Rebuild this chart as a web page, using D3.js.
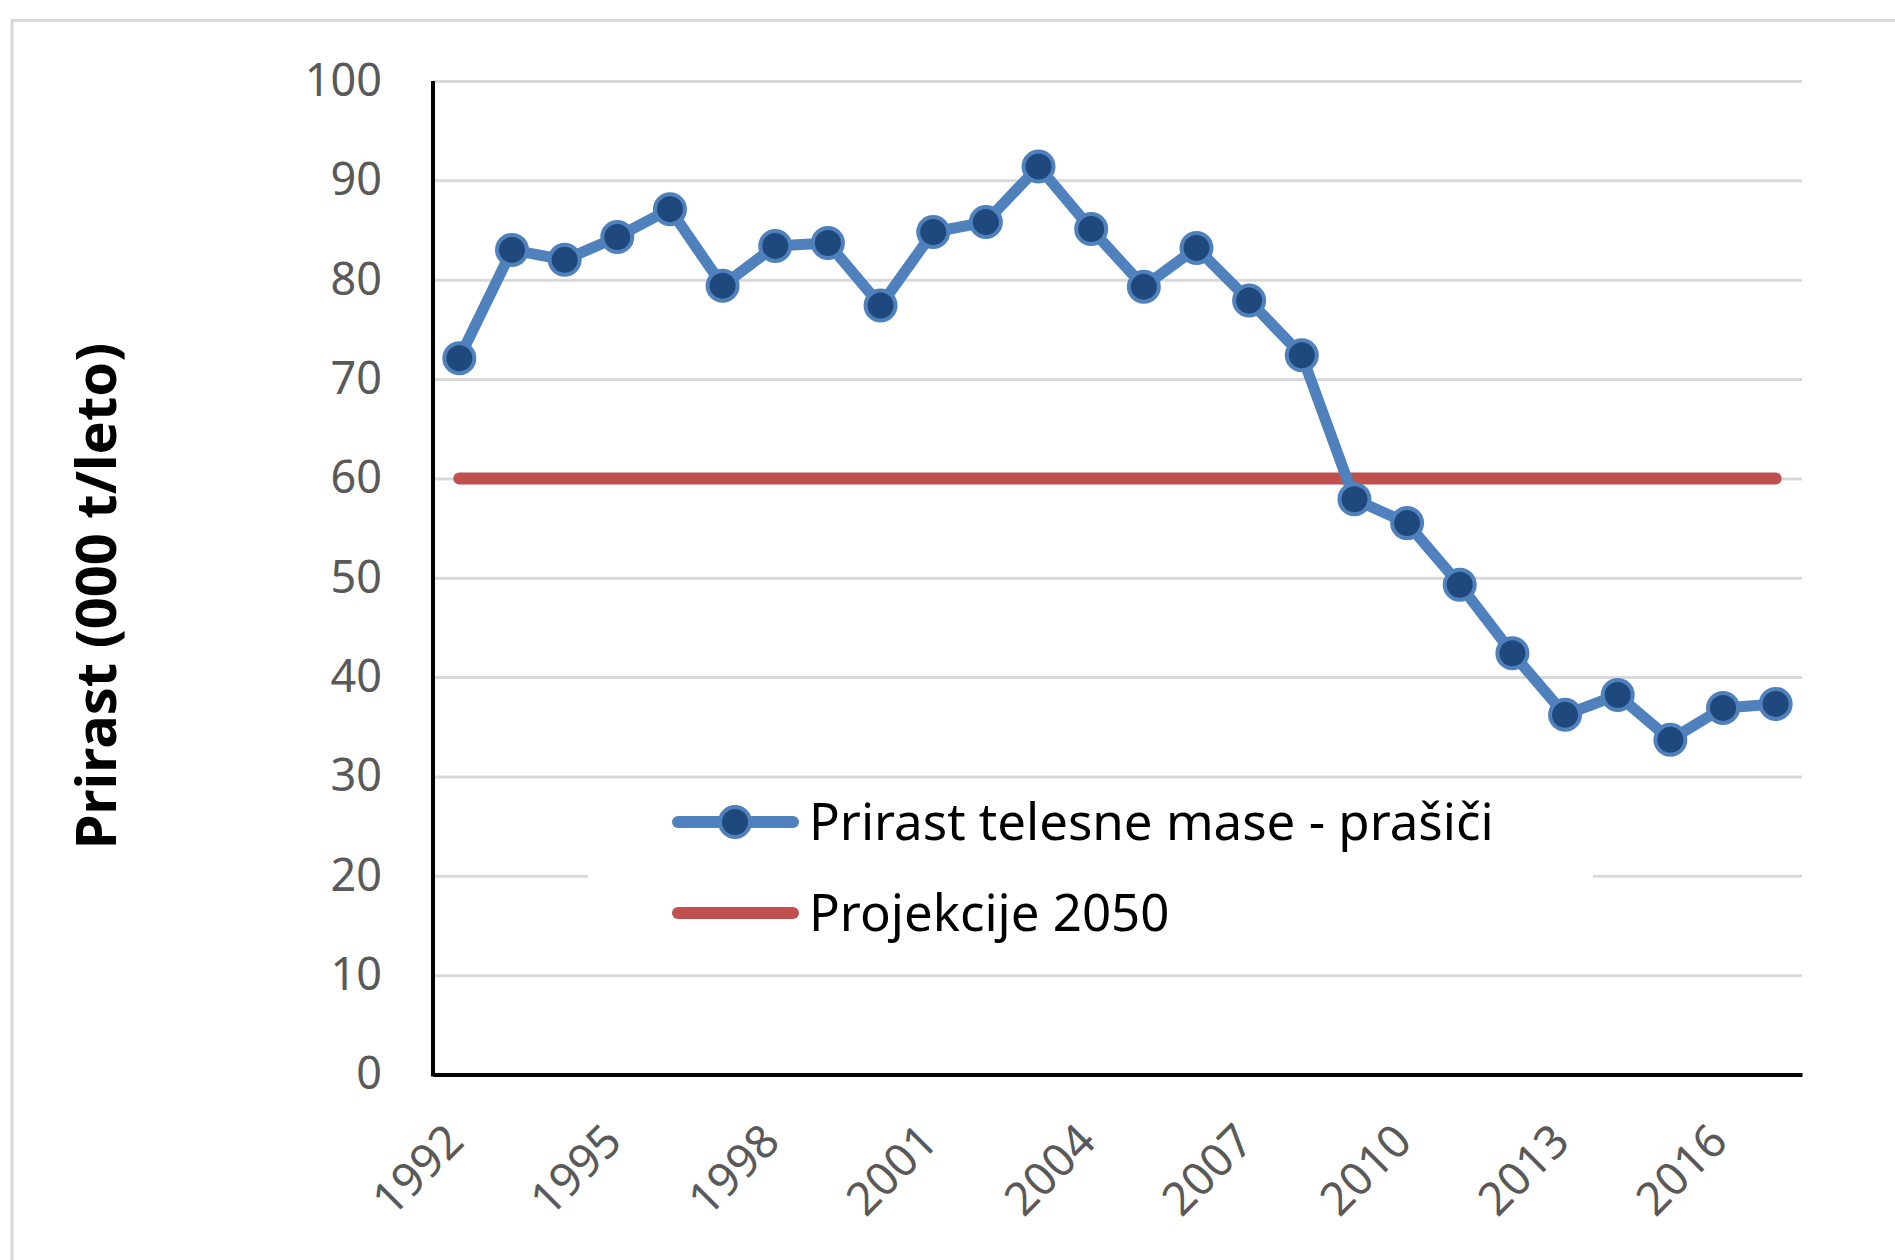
<!DOCTYPE html>
<html>
<head>
<meta charset="utf-8">
<script src="https://cdn.jsdelivr.net/npm/d3@7"></script>
<style>
  body { margin: 0; background: #fff; }
  text { font-family: "Noto Sans", "Open Sans", sans-serif; }
</style>
</head>
<body>
<div id="chart"></div>
<script>
// data
const years = d3.range(1992, 2018).map(String);
const prirast = [72.1, 83.0, 82.0, 84.3, 87.1, 79.4, 83.4, 83.7, 77.4, 84.8,
  85.8, 91.4, 85.1, 79.3, 83.2, 77.9, 72.4, 57.9, 55.5, 49.3,
  42.4, 36.2, 38.2, 33.7, 36.9, 37.3];
const projekcija = 60;
const yTicks = [0, 10, 20, 30, 40, 50, 60, 70, 80, 90, 100];
const xTickYears = ["1992", "1995", "1998", "2001", "2004", "2007", "2010", "2013", "2016"];
const seriesNames = ["Prirast telesne mase - prašiči", "Projekcije 2050"];
const yTitle = "Prirast (000 t/leto)";

const W = 1895, H = 1260;
const margin = { left: 433, right: 93, top: 81, bottom: 185.5 };
const innerW = W - margin.left - margin.right;
const innerH = H - margin.top - margin.bottom;

const blue = "#4F81BD", navy = "#1F497D", red = "#C0504D", grid = "#D9D9D9";

const svg = d3.select("#chart").append("svg")
  .attr("width", W).attr("height", H);

// outer chart frame (runs off the right and bottom edge)
svg.append("rect")
  .attr("x", 12).attr("y", 20.5)
  .attr("width", W).attr("height", H)
  .attr("fill", "#fff")
  .attr("stroke", grid).attr("stroke-width", 3);

const g = svg.append("g").attr("transform", `translate(${margin.left},${margin.top})`);

const x = d3.scalePoint().domain(years).range([0, innerW]).padding(0.5);
const y = d3.scaleLinear().domain([0, 100]).range([innerH, 0]);

// gridlines
const gridG = g.append("g").call(d3.axisLeft(y).tickValues(yTicks).tickSize(-innerW).tickFormat(""));
gridG.select(".domain").remove();
gridG.selectAll(".tick line").attr("stroke", grid).attr("stroke-width", 3);

// y labels
const yAxis = g.append("g").call(d3.axisLeft(y).tickValues(yTicks).tickSize(0).tickPadding(51));
yAxis.select(".domain").remove();
yAxis.selectAll("text")
  .attr("fill", "#595959").attr("font-size", 45)
  .attr("font-family", "Noto Sans");

// x axis
const xAxis = g.append("g").attr("transform", `translate(0,${innerH})`)
  .call(d3.axisBottom(x).tickValues(xTickYears).tickSize(0).tickFormat((d) => d));
xAxis.select(".domain").attr("stroke", "#000").attr("stroke-width", 4);
xAxis.selectAll("text")
  .attr("fill", "#595959").attr("font-size", 46)
  .attr("font-family", "Noto Sans")
  .attr("text-anchor", "end")
  .attr("x", 0).attr("y", 0).attr("dy", "0.35em")
  .attr("transform", "translate(-5,58) rotate(-45)");

// y axis line
g.append("line")
  .attr("x1", 0).attr("x2", 0).attr("y1", 0).attr("y2", innerH + 2)
  .attr("stroke", "#000").attr("stroke-width", 4);

// projection line
g.append("line")
  .attr("x1", x(years[0])).attr("x2", x(years[years.length - 1]))
  .attr("y1", y(projekcija)).attr("y2", y(projekcija))
  .attr("stroke", red).attr("stroke-width", 12).attr("stroke-linecap", "round");

// series line + markers
const line = d3.line().x((d, i) => x(years[i])).y((d) => y(d));
g.append("path")
  .datum(prirast)
  .attr("d", line)
  .attr("fill", "none")
  .attr("stroke", blue).attr("stroke-width", 11)
  .attr("stroke-linejoin", "round").attr("stroke-linecap", "round");

g.selectAll(".dot")
  .data(prirast)
  .join("circle")
  .attr("class", "dot")
  .attr("cx", (d, i) => x(years[i]))
  .attr("cy", (d) => y(d))
  .attr("r", 15)
  .attr("fill", navy)
  .attr("stroke", blue).attr("stroke-width", 4);

// legend
const legend = svg.append("g");
legend.append("rect")
  .attr("x", 588).attr("y", 779).attr("width", 1005).attr("height", 179)
  .attr("fill", "#fff");
const rows = [
  { name: seriesNames[0], color: blue, marker: true, cy: 822 },
  { name: seriesNames[1], color: red, marker: false, cy: 913 },
];
rows.forEach((r) => {
  legend.append("line")
    .attr("x1", 678).attr("x2", 793).attr("y1", r.cy).attr("y2", r.cy)
    .attr("stroke", r.color).attr("stroke-width", 12).attr("stroke-linecap", "round");
  if (r.marker) {
    legend.append("circle")
      .attr("cx", 735).attr("cy", r.cy).attr("r", 15)
      .attr("fill", navy).attr("stroke", blue).attr("stroke-width", 4);
  }
  legend.append("text")
    .attr("x", 809).attr("y", r.cy + 18)
    .attr("font-size", 51).attr("fill", "#000")
    .text(r.name);
});

// y title
svg.append("text")
  .attr("transform", "translate(116,596) rotate(-90)")
  .attr("text-anchor", "middle")
  .attr("font-size", 56).attr("font-weight", "bold").attr("fill", "#000")
  .text(yTitle);
</script>
</body>
</html>
